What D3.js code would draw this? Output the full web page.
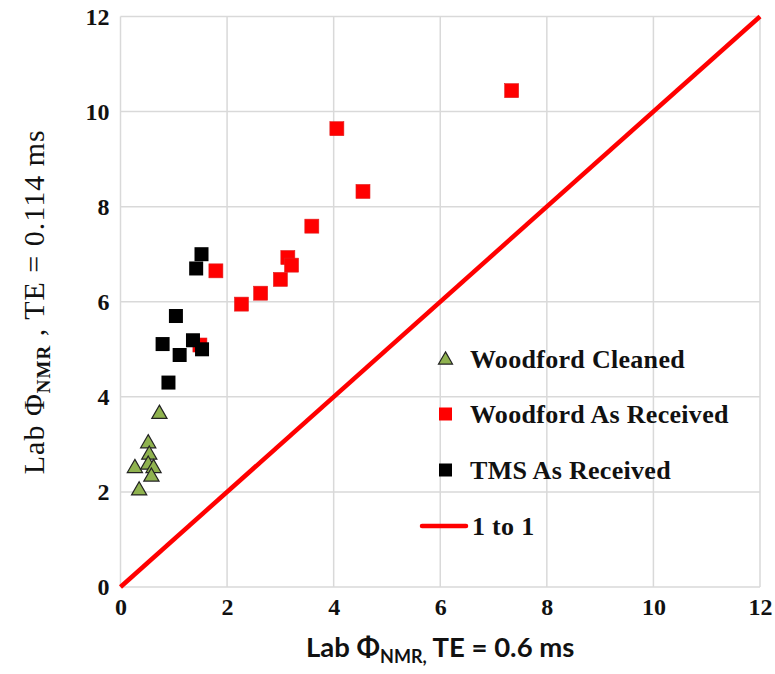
<!DOCTYPE html>
<html>
<head>
<meta charset="utf-8">
<script src="https://cdn.jsdelivr.net/npm/d3@7"></script>
<style>
  html, body { margin: 0; padding: 0; background: #fff; }
  svg { display: block; }
</style>
</head>
<body>
<svg id="chart" width="775" height="674"></svg>
<script>
// Lab porosity from NMR at two echo times
const cleanedX  = [0.73, 0.52, 0.54, 0.27, 0.52, 0.62, 0.58, 0.35];
const cleanedY  = [3.64, 3.02, 2.78, 2.50, 2.57, 2.50, 2.32, 2.03];

const receivedX = [7.34, 4.06, 4.55, 3.59, 3.14, 3.21, 3.00, 1.79, 2.63, 2.27, 1.49];
const receivedY = [10.44, 9.64, 8.32, 7.59, 6.93, 6.77, 6.47, 6.65, 6.18, 5.95, 5.09];

const tmsX = [1.52, 1.42, 1.04, 0.79, 1.36, 1.11, 1.53, 0.90];
const tmsY = [7.00, 6.70, 5.70, 5.11, 5.19, 4.88, 5.00, 4.30];

const oneToOne = [0, 12];
const axisTicks = [0, 2, 4, 6, 8, 10, 12];

const legendLabels = ["Woodford Cleaned", "Woodford As Received", "TMS As Received", "1 to 1"];

const svg = d3.select("#chart");
const plotLeft = 120.5, plotTop = 16.5, plotRight = 760, plotBottom = 587;

const x = d3.scaleLinear().domain([0, 12]).range([plotLeft, plotRight]);
const y = d3.scaleLinear().domain([0, 12]).range([plotBottom, plotTop]);

const serif = "'Liberation Serif', 'Times New Roman', serif";

// gridlines
const grid = svg.append("g").attr("stroke", "#d9d9d9").attr("stroke-width", 1.5);
grid.selectAll("line.v").data(axisTicks).join("line").attr("class", "v")
  .attr("x1", d => x(d)).attr("x2", d => x(d))
  .attr("y1", plotTop).attr("y2", plotBottom);
grid.selectAll("line.h").data(axisTicks).join("line").attr("class", "h")
  .attr("x1", plotLeft).attr("x2", plotRight)
  .attr("y1", d => y(d)).attr("y2", d => y(d));

// axes (labels only, lines come from the grid)
const xAxis = svg.append("g").attr("transform", `translate(0,${plotBottom})`)
  .call(d3.axisBottom(x).tickValues(axisTicks).tickSize(0).tickPadding(11).tickFormat(d3.format("d")));
const yAxis = svg.append("g").attr("transform", `translate(${plotLeft},0)`)
  .call(d3.axisLeft(y).tickValues(axisTicks).tickSize(0).tickPadding(11).tickFormat(d3.format("d")));
[xAxis, yAxis].forEach(a => {
  a.select(".domain").remove();
  a.selectAll("text")
    .attr("font-family", serif).attr("font-weight", "bold")
    .attr("font-size", 24).attr("fill", "#111");
});

// 1 to 1 line
svg.append("line")
  .attr("x1", x(oneToOne[0])).attr("y1", y(oneToOne[0]))
  .attr("x2", x(oneToOne[1])).attr("y2", y(oneToOne[1]))
  .attr("stroke", "#ff0000").attr("stroke-width", 4.5);

const tri = d3.symbol().type(d3.symbolTriangle).size(100);

// Woodford cleaned
svg.append("g").selectAll("path").data(d3.range(cleanedX.length)).join("path")
  .attr("d", tri)
  .attr("transform", i => `translate(${x(cleanedX[i])},${y(cleanedY[i])})`)
  .attr("fill", "#8fb24f").attr("stroke", "#222").attr("stroke-width", 1.2);

const sq = 14;
// Woodford as received
svg.append("g").selectAll("rect").data(d3.range(receivedX.length)).join("rect")
  .attr("x", i => x(receivedX[i]) - sq / 2).attr("y", i => y(receivedY[i]) - sq / 2)
  .attr("width", sq).attr("height", sq)
  .attr("fill", "#ff0000").attr("stroke", "#e02020").attr("stroke-width", 0.6);

// TMS as received
svg.append("g").selectAll("rect").data(d3.range(tmsX.length)).join("rect")
  .attr("x", i => x(tmsX[i]) - sq / 2).attr("y", i => y(tmsY[i]) - sq / 2)
  .attr("width", sq).attr("height", sq)
  .attr("fill", "#000");

// legend
const leg = svg.append("g");
const legY = [359, 414, 470, 526];
const legMarkX = 445.5;
leg.append("path").attr("d", d3.symbol().type(d3.symbolTriangle).size(85))
  .attr("transform", `translate(${legMarkX},${legY[0] + 1})`)
  .attr("fill", "#8fb24f").attr("stroke", "#222").attr("stroke-width", 1.2);
leg.append("rect").attr("x", legMarkX - 6.5).attr("y", legY[1] - 6.5)
  .attr("width", 13).attr("height", 13).attr("fill", "#ff0000");
leg.append("rect").attr("x", legMarkX - 6.5).attr("y", legY[2] - 6.5)
  .attr("width", 13).attr("height", 13).attr("fill", "#000");
leg.append("line").attr("x1", 422).attr("x2", 466)
  .attr("y1", legY[3]).attr("y2", legY[3])
  .attr("stroke", "#ff0000").attr("stroke-width", 4.5).attr("stroke-linecap", "round");
leg.selectAll("text").data(legendLabels).join("text")
  .attr("x", (d, i) => i === 3 ? 472 : 470)
  .attr("y", (d, i) => legY[i] + 9)
  .attr("font-family", serif).attr("font-weight", "bold").attr("font-size", 26)
  .attr("letter-spacing", 0.3)
  .attr("fill", "#111")
  .text(d => d);

// axis titles
const xt = svg.append("text")
  .attr("x", (plotLeft + plotRight) / 2).attr("y", 657)
  .attr("text-anchor", "middle")
  .attr("font-family", "Lato, 'Open Sans', sans-serif").attr("font-weight", "bold")
  .attr("font-size", 27.5).attr("fill", "#111");
xt.append("tspan").text("Lab Φ");
xt.append("tspan").attr("font-size", 18).attr("dy", 6).text("NMR,");
xt.append("tspan").attr("dy", -6).text(" TE = 0.6 ms");

const yt = svg.append("text")
  .attr("transform", `translate(44,${(plotTop + plotBottom) / 2}) rotate(-90)`)
  .attr("text-anchor", "middle")
  .attr("font-family", serif)
  .attr("font-size", 30).attr("letter-spacing", 1).attr("fill", "#111");
yt.append("tspan").text("Lab Φ");
yt.append("tspan").attr("font-size", 19).attr("font-weight", "bold").attr("dy", 6).text("NMR");
yt.append("tspan").attr("dy", -6).text(" , TE = 0.114 ms");
</script>
</body>
</html>
